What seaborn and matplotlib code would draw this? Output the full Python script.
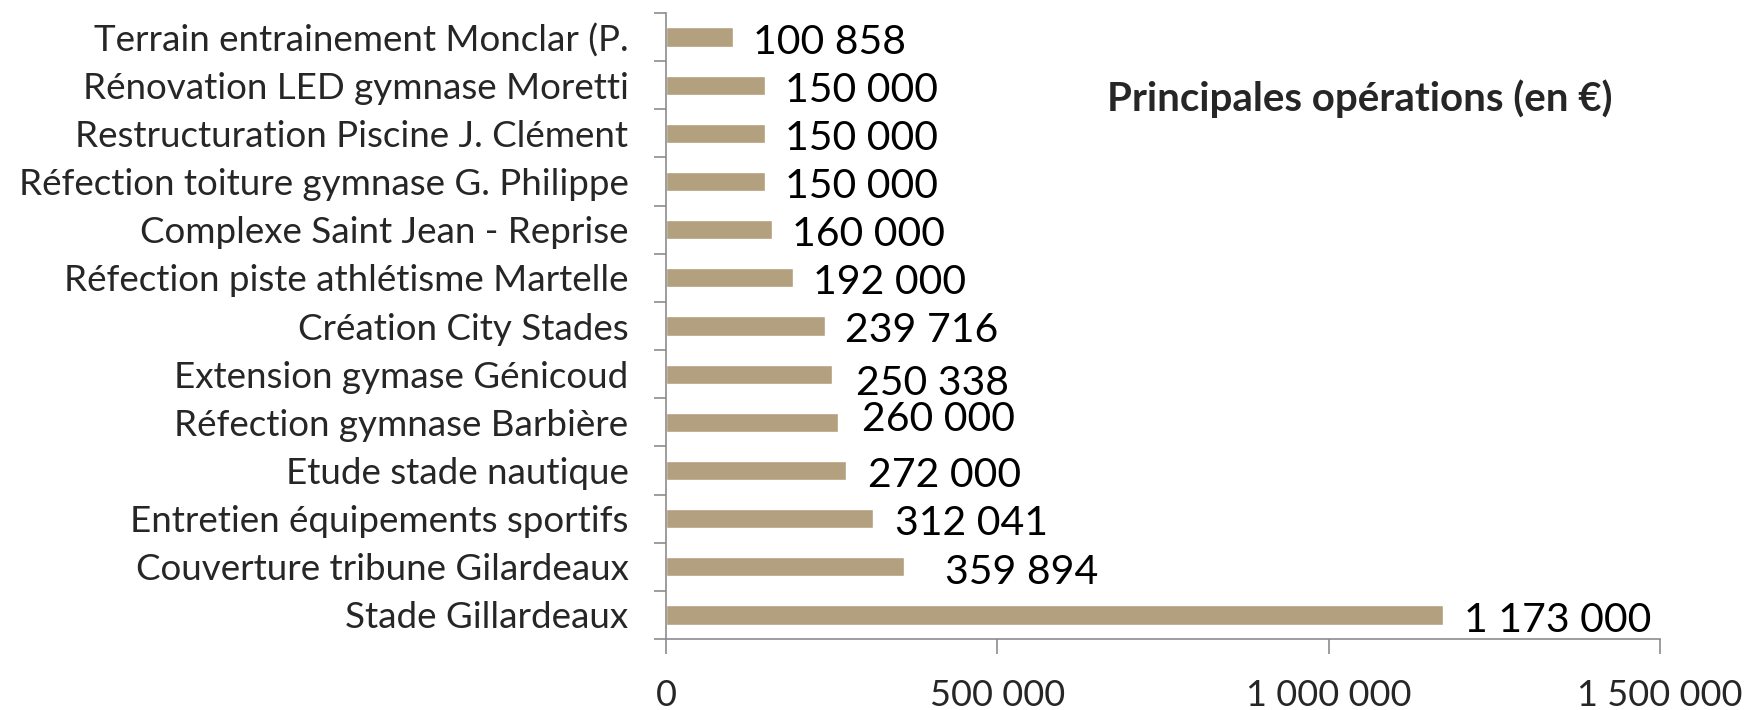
import matplotlib
matplotlib.use("Agg")
import matplotlib.pyplot as plt
import seaborn as sns
import pandas as pd
from matplotlib.ticker import FixedLocator, FuncFormatter

categories = [
    "Terrain entrainement Monclar (P.",
    "Rénovation LED gymnase Moretti",
    "Restructuration Piscine J. Clément",
    "Réfection toiture gymnase G. Philippe",
    "Complexe Saint Jean - Reprise",
    "Réfection piste athlétisme Martelle",
    "Création City Stades",
    "Extension gymase Génicoud",
    "Réfection gymnase Barbière",
    "Etude stade nautique",
    "Entretien équipements sportifs",
    "Couverture tribune Gilardeaux",
    "Stade Gillardeaux",
]
values = [100858, 150000, 150000, 150000, 160000, 192000, 239716,
          250338, 260000, 272000, 312041, 359894, 1173000]
x_ticks = [0, 500000, 1000000, 1500000]
title = "Principales opérations (en €)"

# label nudges in pixels (dx, dy) mimicking the original layout
label_dx = [20, 20, 20, 20, 20, 20, 20, 24, 24, 22, 22, 41, 21]
label_dy = [-5, -5, -5, -5, -5, -5, -5, -9, 3, -5, -5, -6, -6]

sns.set_theme(style="white")
plt.rcParams["font.family"] = ["Lato", "DejaVu Sans"]

def fmt(v):
    return f"{int(v):,}".replace(",", " ")

df = pd.DataFrame({"cat": categories, "val": values})

fig = plt.figure(figsize=(17.49, 7.10), dpi=100)
ax = fig.add_axes([666 / 1749, 1 - 639 / 710, (1660 - 666) / 1749, (639 - 13) / 710])

sns.barplot(data=df, y="cat", x="val", order=categories, orient="h",
            color="#B3A07E", saturation=1, width=0.4, ax=ax)

ax.set_xlim(0, 1500000)
ax.set_ylim(len(categories) - 0.5, -0.5)
ax.set_xlabel("")
ax.set_ylabel("")

ax.xaxis.set_major_locator(FixedLocator(x_ticks))
ax.xaxis.set_major_formatter(FuncFormatter(lambda v, p: fmt(v)))
ax.tick_params(axis="x", which="major", direction="out", length=11, width=1.2,
               color="#8C8C8C", labelsize=26, pad=18, bottom=True)
ax.tick_params(axis="y", which="major", length=0, labelsize=26.5, pad=27)
ax.yaxis.set_minor_locator(FixedLocator([i - 0.5 for i in range(len(categories) + 1)]))
ax.tick_params(axis="y", which="minor", direction="out", length=9, width=1.2,
               color="#8C8C8C", left=True)

for s in ["top", "right"]:
    ax.spines[s].set_visible(False)
for s in ["left", "bottom"]:
    ax.spines[s].set_color("#8C8C8C")
    ax.spines[s].set_linewidth(1.2)

for i, v in enumerate(values):
    ax.annotate(fmt(v), xy=(v, i), xytext=(label_dx[i], label_dy[i]),
                textcoords="offset pixels", ha="left", va="center",
                fontsize=29.5, color="black")

fig.text(1107 / 1749, 1 - 99 / 710, title, fontsize=29, fontweight="bold",
         ha="left", va="center")

fig.savefig("out.png", dpi=100)
